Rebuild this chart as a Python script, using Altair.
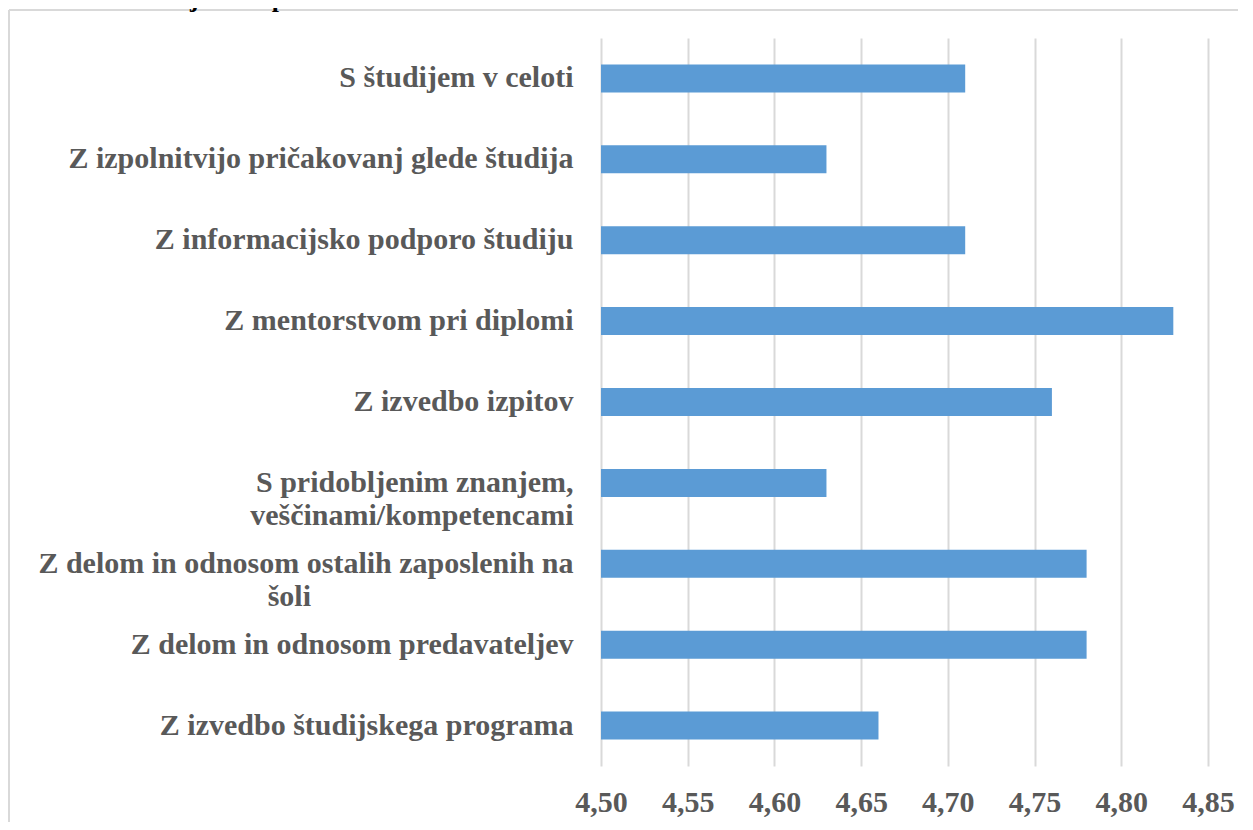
import altair as alt
import pandas as pd

title_text = "Slika 1: Zadovoljstvo diplomantov v 2021/2022"

categories = [
    "S študijem v celoti",
    "Z izpolnitvijo pričakovanj glede študija",
    "Z informacijsko podporo študiju",
    "Z mentorstvom pri diplomi",
    "Z izvedbo izpitov",
    "S pridobljenim znanjem,|veščinami/kompetencami",
    "Z delom in odnosom ostalih zaposlenih na|šoli" + "\u00a0" * 35 + "\u2060",
    "Z delom in odnosom predavateljev",
    "Z izvedbo študijskega programa",
]
values = [4.71, 4.63, 4.71, 4.83, 4.76, 4.63, 4.78, 4.78, 4.66]
x_ticks = [4.50, 4.55, 4.60, 4.65, 4.70, 4.75, 4.80, 4.85]

df = pd.DataFrame({"cat": categories, "val": values})

W, H = 607, 728
PAD_L, PAD_T = 593, 30

font = "Liberation Serif"
grey = "#595959"

bars = alt.Chart(df).mark_bar(size=28, color="#5B9BD5").encode(
    y=alt.Y(
        "cat:N",
        sort=categories,
        title=None,
        scale=alt.Scale(paddingInner=0, paddingOuter=0),
        axis=alt.Axis(
            labelExpr="split(datum.label, '|')",
            labelFont=font,
            labelFontSize=30,
            labelFontWeight="bold",
            labelColor=grey,
            labelPadding=28,
            labelLineHeight=33,
            labelLimit=800,
            ticks=False,
            domain=False,
            grid=False,
        ),
    ),
    x=alt.X(
        "val:Q",
        title=None,
        scale=alt.Scale(domain=[4.5, 4.85], zero=False, nice=False),
        axis=alt.Axis(
            values=x_ticks,
            labelExpr="replace(format(datum.value, '.2f'), '.', ',')",
            labelFont=font,
            labelFontSize=30,
            labelFontWeight="bold",
            labelColor=grey,
            labelPadding=21,
            labelFlush=False,
            labelOverlap=False,
            ticks=False,
            domain=False,
            grid=True,
            gridColor="#D9D9D9",
            gridWidth=2,
        ),
    ),
    x2=alt.X2(datum=4.5),
)

one = pd.DataFrame({"t": [title_text]})

frame_left = alt.Chart(one).mark_rule(color="#D9D9D9", strokeWidth=2).encode(
    x=alt.value(-PAD_L + 1), y=alt.value(-PAD_T + 2), y2=alt.value(H + 200)
)
frame_top = alt.Chart(one).mark_rule(color="#D9D9D9", strokeWidth=2).encode(
    x=alt.value(-PAD_L + 1), x2=alt.value(W + 200), y=alt.value(-PAD_T + 2)
)
title = alt.Chart(one).mark_text(
    font=font, fontSize=26, fontWeight="bold", color="#000000",
    align="left", baseline="alphabetic"
).encode(text="t:N", x=alt.value(-PAD_L), y=alt.value(-PAD_T - 1))

chart = alt.layer(frame_left, frame_top, bars, title).properties(
    width=W,
    height=H,
    autosize=alt.AutoSizeParams(type="none"),
    padding={"left": PAD_L, "top": PAD_T, "right": 30, "bottom": 56},
).configure_view(stroke=None)

chart.save("out.html", embed_options={"renderer": "svg", "actions": False})
